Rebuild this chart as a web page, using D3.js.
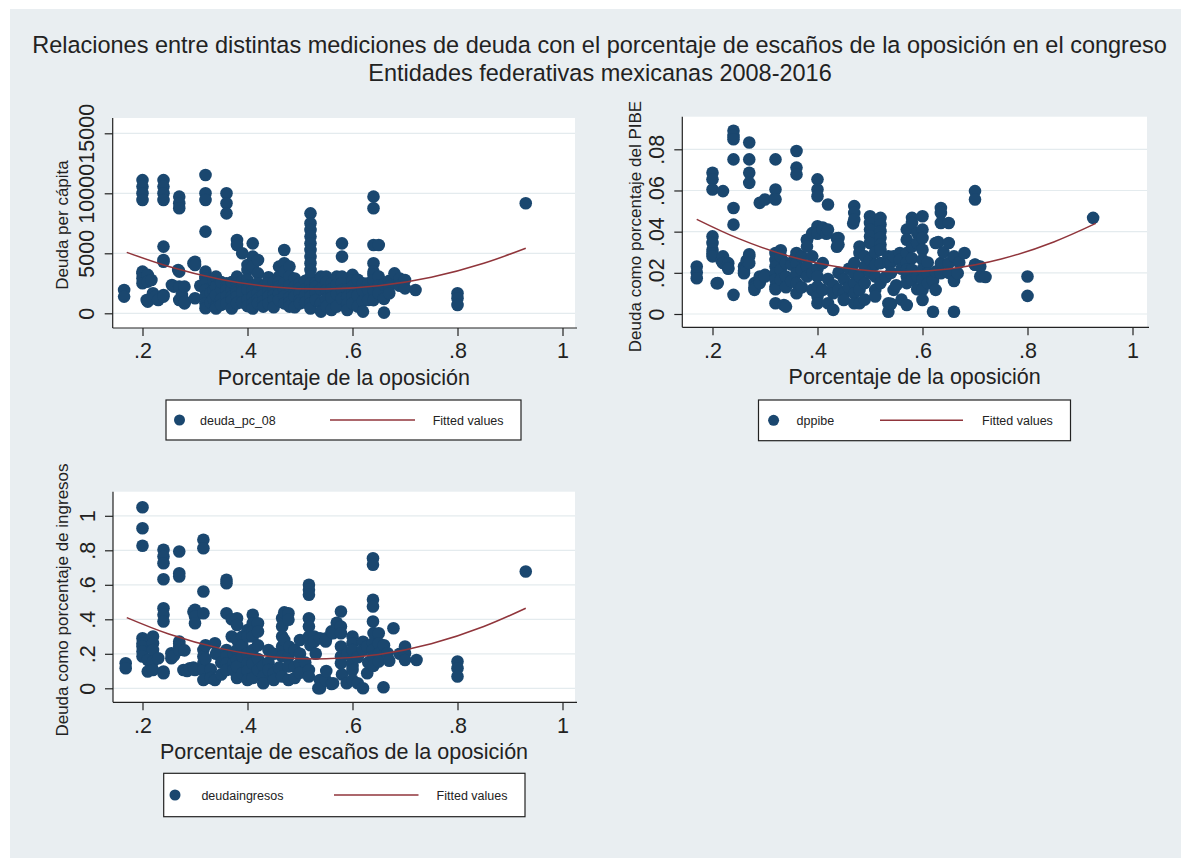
<!DOCTYPE html>
<html>
<head>
<meta charset="utf-8">
<script src="https://cdn.jsdelivr.net/npm/d3@7"></script>
<style>
  html, body { margin: 0; padding: 0; background: #ffffff; }
  svg { display: block; font-family: "Liberation Sans", Arial, Helvetica, sans-serif; }
</style>
</head>
<body>
<svg id="chart" width="1181" height="858"></svg>
<script>
// ---- Titles and axis text ----
const titleLines = [
  "Relaciones entre distintas mediciones de deuda con el porcentaje de escaños de la oposición en el congreso",
  "Entidades federativas mexicanas 2008-2016"
];
const xTitles = ["Porcentaje de la oposición", "Porcentaje de la oposición", "Porcentaje de escaños de la oposición"];
const yTitles = ["Deuda per cápita", "Deuda como porcentaje del PIBE", "Deuda como porcentaje de ingresos"];
const legendLabels = ["deuda_pc_08", "dppibe", "deudaingresos"];
const fitLabel = "Fitted values";

// ---- Tick values ----
const xTicks = [0.2, 0.4, 0.6, 0.8, 1];
const pcTicks = [0, 5000, 10000, 15000];
const pibeTicks = [0, 0.02, 0.04, 0.06, 0.08];
const ingTicks = [0, 0.2, 0.4, 0.6, 0.8, 1];

// ---- Observations: [share of opposition seats, debt measure] ----
const deudaPc = [
  [0.165,1940],[0.165,1390],
  [0.2,11100],[0.2,10560],[0.2,10000],[0.2,9440],[0.2,3470],[0.2,3330],[0.2,2920],[0.2,2500],
  [0.208,1110],[0.21,970],[0.21,3200],[0.21,2640],[0.217,2780],
  [0.22,1670],[0.22,1250],[0.224,1390],[0.23,1110],
  [0.24,11100],[0.24,10560],[0.24,10000],[0.24,9440],[0.24,5560],[0.24,4440],[0.24,4300],[0.24,1530],[0.24,1390],
  [0.256,2360],[0.26,2220],
  [0.268,3610],[0.27,9720],[0.27,9170],[0.27,8750],[0.27,3470],[0.27,2220],[0.27,1110],
  [0.275,1530],[0.28,2220],[0.28,830],[0.281,970],
  [0.297,4170],[0.3,4300],[0.3,4030],[0.3,1250],[0.31,2300],
  [0.32,11530],[0.32,10000],[0.32,9440],[0.32,6810],[0.32,3470],[0.32,3060],[0.32,2920],[0.32,2500],[0.32,1940],[0.32,1390],[0.32,830],[0.32,420],
  [0.33,1700],[0.33,900],[0.335,2700],[0.335,1900],[0.335,1200],
  [0.34,3060],[0.34,2220],[0.34,560],[0.34,1500],[0.34,400],
  [0.35,2000],[0.35,1200],[0.35,2600],[0.35,700],
  [0.36,10000],[0.36,9170],[0.36,8330],[0.36,2500],[0.36,2200],[0.36,1940],[0.36,1390],[0.36,830],
  [0.37,1940],[0.37,1390],[0.37,2600],[0.37,1100],[0.37,400],
  [0.38,6110],[0.38,5690],[0.38,3060],[0.38,2500],[0.38,1940],[0.38,1700],[0.38,1390],[0.38,830],
  [0.39,5000],[0.39,2220],[0.39,1390],[0.39,1800],[0.39,900],[0.39,2700],
  [0.4,4030],[0.4,3610],[0.4,2780],[0.4,2300],[0.4,1940],[0.4,1110],[0.4,600],
  [0.41,5830],[0.41,4720],[0.41,3890],[0.41,2300],[0.41,1900],[0.41,1390],[0.41,830],[0.41,400],
  [0.42,4440],[0.42,3330],[0.42,2500],[0.42,1670],[0.42,1200],[0.42,830],
  [0.43,2220],[0.43,1900],[0.43,1530],[0.43,1000],[0.43,560],
  [0.44,3000],[0.44,2500],[0.44,1900],[0.44,1390],[0.44,800],
  [0.45,2600],[0.45,1940],[0.45,1500],[0.45,1110],[0.45,500],
  [0.46,3890],[0.46,3060],[0.46,2600],[0.46,2220],[0.46,1600],[0.46,1110],
  [0.47,5280],[0.47,4170],[0.47,3470],[0.47,2500],[0.47,1940],[0.47,1400],[0.47,830],
  [0.48,3890],[0.48,3060],[0.48,2300],[0.48,1300],[0.48,900],[0.48,560],
  [0.49,2900],[0.49,2220],[0.49,1800],[0.49,1390],[0.49,500],
  [0.5,2500],[0.5,2100],[0.5,1670],[0.5,1100],[0.5,830],
  [0.51,2700],[0.51,2000],[0.51,1500],[0.51,900],
  [0.52,8330],[0.52,7500],[0.52,6940],[0.52,6390],[0.52,5830],[0.52,5280],[0.52,4720],[0.52,4170],[0.52,3610],[0.52,3060],[0.52,2500],[0.52,1940],[0.52,1390],[0.52,830],[0.52,400],
  [0.53,2500],[0.53,2200],[0.53,1700],[0.53,1110],
  [0.54,3060],[0.54,2000],[0.54,830],[0.54,140],
  [0.55,3060],[0.55,2600],[0.55,1940],[0.55,1200],[0.55,560],
  [0.56,2500],[0.56,2000],[0.56,1300],[0.56,280],
  [0.57,3060],[0.57,2400],[0.57,1600],[0.57,560],
  [0.58,5830],[0.58,4720],[0.58,3060],[0.58,2500],[0.58,1940],[0.58,1200],
  [0.59,2000],[0.59,1390],[0.59,800],[0.59,280],
  [0.6,3200],[0.6,2700],[0.6,2220],[0.6,1800],[0.6,1390],[0.6,830],
  [0.61,2800],[0.61,1500],[0.61,560],
  [0.62,2500],[0.62,1900],[0.62,1000],[0.62,140],
  [0.63,2500],[0.63,1940],[0.63,1110],
  [0.64,9720],[0.64,8750],[0.64,5690],[0.64,4170],[0.64,3470],[0.64,3190],[0.64,2780],[0.64,1940],[0.64,1100],
  [0.65,5690],[0.65,3060],[0.65,2300],[0.65,1670],
  [0.66,2400],[0.66,1200],[0.66,60],
  [0.67,2700],[0.67,2220],[0.67,1670],
  [0.68,3330],[0.69,2900],[0.69,2300],
  [0.7,2780],[0.7,2080],
  [0.72,1940],
  [0.8,1670],[0.8,1250],[0.8,690],
  [0.93,9170]
];

const dppibe = [
  [0.17,0.0231],[0.17,0.0202],[0.17,0.0174],
  [0.2,0.0686],[0.2,0.0654],[0.2,0.0605],[0.2,0.0377],[0.2,0.0345],[0.2,0.0312],[0.2,0.0295],[0.2,0.028],
  [0.208,0.0149],[0.21,0.015],[0.217,0.026],
  [0.22,0.0597],[0.22,0.028],[0.22,0.0247],
  [0.23,0.0247],[0.23,0.0223],[0.23,0.022],
  [0.24,0.089],[0.24,0.0865],[0.24,0.0849],[0.24,0.0751],[0.24,0.0515],[0.24,0.0434],[0.24,0.0093],
  [0.26,0.0231],[0.26,0.021],[0.26,0.0198],[0.265,0.026],
  [0.27,0.0833],[0.27,0.0751],[0.27,0.0686],[0.27,0.0637],[0.27,0.029],[0.27,0.028],[0.27,0.0247],
  [0.28,0.015],[0.28,0.013],[0.28,0.0117],
  [0.29,0.054],[0.29,0.0182],[0.29,0.016],[0.29,0.015],
  [0.3,0.0556],[0.3,0.019],[0.3,0.0182],
  [0.319,0.056],
  [0.32,0.0751],[0.32,0.0605],[0.32,0.0556],[0.32,0.0296],[0.32,0.0263],[0.32,0.0231],[0.32,0.0198],[0.32,0.0166],[0.32,0.0133],[0.32,0.012],[0.32,0.0052],
  [0.33,0.031],[0.33,0.028],[0.33,0.0215],[0.33,0.0166],[0.336,0.0044],
  [0.34,0.0247],[0.34,0.0182],[0.34,0.013],[0.34,0.0036],
  [0.35,0.024],[0.35,0.016],[0.357,0.027],
  [0.36,0.0792],[0.36,0.0711],[0.36,0.0678],[0.36,0.0296],[0.36,0.0247],[0.36,0.0198],[0.36,0.015],[0.36,0.0101],
  [0.37,0.028],[0.37,0.0215],[0.37,0.013],
  [0.38,0.0361],[0.38,0.036],[0.38,0.0328],[0.38,0.0231],[0.38,0.0182],
  [0.39,0.0393],[0.39,0.028],[0.39,0.02],[0.39,0.0117],
  [0.4,0.0654],[0.4,0.0605],[0.4,0.0572],[0.4,0.0426],[0.4,0.039],[0.4,0.022],[0.4,0.0182],[0.4,0.0133],[0.4,0.0085],[0.4,0.0052],
  [0.41,0.042],[0.41,0.041],[0.41,0.0247],[0.41,0.0117],
  [0.417,0.039],
  [0.42,0.0532],[0.42,0.041],[0.42,0.017],[0.42,0.0052],
  [0.43,0.014],[0.43,0.0101],[0.43,0.002],
  [0.437,0.0368],[0.437,0.0327],
  [0.44,0.0369],[0.44,0.0337],[0.44,0.02],[0.44,0.0117],
  [0.45,0.017],[0.45,0.0101],[0.45,0.0068],
  [0.46,0.022],[0.46,0.013],
  [0.468,0.044],
  [0.47,0.0524],[0.47,0.0491],[0.47,0.0459],[0.47,0.0247],[0.47,0.0198],[0.47,0.015],[0.47,0.0101],[0.47,0.0052],
  [0.48,0.0328],[0.48,0.0296],[0.48,0.0182],[0.48,0.0117],[0.48,0.0052],
  [0.49,0.028],[0.49,0.0231],[0.49,0.015],[0.49,0.007],
  [0.5,0.0475],[0.5,0.0442],[0.5,0.041],[0.5,0.0377],[0.5,0.0345],[0.5,0.0263],[0.5,0.02],
  [0.51,0.03],[0.51,0.024],[0.51,0.0182],[0.51,0.0117],[0.51,0.0085],
  [0.52,0.0467],[0.52,0.0435],[0.52,0.0402],[0.52,0.037],[0.52,0.0337],[0.52,0.0312],[0.52,0.0247],[0.52,0.015],
  [0.53,0.018],
  [0.535,0.028],[0.535,0.0247],[0.535,0.0052],[0.535,0.0011],
  [0.54,0.025],[0.54,0.02],[0.54,0.005],
  [0.545,0.028],[0.545,0.0117],
  [0.55,0.014],
  [0.557,0.0296],[0.557,0.0263],
  [0.56,0.022],[0.56,0.007],
  [0.57,0.041],[0.57,0.0361],[0.57,0.0296],[0.57,0.025],[0.57,0.0215],[0.57,0.0182],[0.57,0.015],[0.57,0.0044],
  [0.58,0.0467],[0.58,0.0442],[0.58,0.0328],[0.58,0.027],[0.58,0.0215],[0.58,0.0166],
  [0.59,0.0393],[0.59,0.0345],[0.59,0.0182],[0.59,0.012],
  [0.6,0.0475],[0.6,0.041],[0.6,0.0369],[0.6,0.0312],[0.6,0.0263],[0.6,0.0215],[0.6,0.0166],[0.6,0.0117],[0.6,0.0068],
  [0.61,0.025],[0.61,0.0198],[0.61,0.015],
  [0.62,0.016],[0.62,0.0011],
  [0.625,0.0345],[0.625,0.0206],[0.625,0.0117],
  [0.63,0.035],
  [0.635,0.0515],[0.635,0.0491],[0.635,0.0442],[0.635,0.0247],[0.635,0.0198],
  [0.64,0.03],
  [0.65,0.0442],[0.65,0.0345],[0.65,0.0247],[0.65,0.02],
  [0.66,0.028],[0.66,0.016],[0.66,0.0011],
  [0.667,0.0198],[0.67,0.025],
  [0.68,0.0296],
  [0.7,0.0597],[0.7,0.0556],[0.7,0.0239],[0.7,0.024],
  [0.71,0.0231],[0.71,0.0182],[0.72,0.018],
  [0.8,0.0182],[0.8,0.0088],
  [0.925,0.0467]
];

const deudaIngresos = [
  [0.168,0.145],[0.168,0.116],
  [0.2,1.05],[0.2,0.928],[0.2,0.826],[0.2,0.29],[0.2,0.26],[0.2,0.242],[0.2,0.213],[0.2,0.184],
  [0.21,0.164],[0.21,0.097],
  [0.22,0.3],[0.22,0.261],[0.22,0.222],[0.22,0.155],[0.22,0.106],
  [0.23,0.174],
  [0.24,0.803],[0.24,0.764],[0.24,0.725],[0.24,0.632],[0.24,0.464],[0.24,0.426],[0.24,0.387],[0.24,0.097],[0.24,0.087],
  [0.255,0.203],[0.255,0.174],[0.26,0.19],
  [0.27,0.793],[0.27,0.667],[0.27,0.648],[0.27,0.271],[0.27,0.26],[0.27,0.242],[0.27,0.222],
  [0.278,0.106],[0.28,0.22],[0.285,0.1],[0.29,0.116],
  [0.297,0.444],[0.297,0.12],
  [0.3,0.455],[0.3,0.416],[0.3,0.377],[0.3,0.106],
  [0.316,0.861],[0.316,0.812],[0.316,0.561],[0.316,0.435],[0.316,0.222],[0.316,0.184],[0.316,0.145],[0.316,0.106],[0.316,0.048],
  [0.32,0.25],[0.32,0.17],
  [0.33,0.11],[0.33,0.06],
  [0.338,0.261],[0.34,0.2],[0.338,0.048],
  [0.35,0.15],[0.35,0.08],
  [0.36,0.629],[0.36,0.609],[0.36,0.435],[0.36,0.222],[0.36,0.184],[0.36,0.145],[0.36,0.106],
  [0.37,0.4],[0.37,0.3],
  [0.373,0.203],[0.373,0.145],[0.373,0.106],
  [0.38,0.406],[0.38,0.367],[0.38,0.28],[0.38,0.222],[0.38,0.164],[0.38,0.126],[0.38,0.06],
  [0.39,0.3],[0.39,0.25],[0.39,0.184],[0.39,0.087],
  [0.4,0.338],[0.4,0.3],[0.4,0.2],[0.4,0.145],[0.4,0.1],[0.4,0.048],
  [0.41,0.426],[0.41,0.377],[0.41,0.329],[0.41,0.3],[0.41,0.222],[0.41,0.145],[0.41,0.06],
  [0.42,0.377],[0.42,0.329],[0.42,0.25],[0.42,0.17],[0.42,0.106],
  [0.43,0.13],[0.43,0.068],[0.43,0.029],
  [0.44,0.222],[0.44,0.15],[0.44,0.106],
  [0.45,0.2],[0.45,0.087],[0.45,0.048],
  [0.46,0.12],
  [0.466,0.406],[0.466,0.358],[0.466,0.3],[0.466,0.242],[0.466,0.184],[0.466,0.068],
  [0.47,0.44],[0.47,0.28],
  [0.478,0.435],[0.478,0.397],[0.478,0.184],[0.478,0.126],[0.478,0.048],
  [0.48,0.24],
  [0.49,0.222],[0.49,0.126],[0.49,0.06],
  [0.5,0.28],[0.5,0.2],[0.5,0.145],[0.5,0.09],
  [0.51,0.15],
  [0.517,0.6],[0.517,0.571],[0.517,0.542],[0.517,0.406],[0.517,0.358],[0.517,0.3],[0.517,0.106],[0.517,0.068],
  [0.52,0.25],
  [0.527,0.3],[0.527,0.271],[0.53,0.2],
  [0.535,0.0],[0.538,0.29],[0.538,0.048],[0.538,0.0],
  [0.549,0.271],[0.549,0.048],[0.55,0.29],[0.55,0.1],
  [0.56,0.33],[0.56,0.025],[0.563,0.319],[0.563,0.029],
  [0.57,0.38],
  [0.578,0.445],[0.578,0.358],[0.578,0.319],[0.578,0.242],[0.578,0.184],[0.578,0.145],[0.58,0.08],
  [0.589,0.029],[0.59,0.2],
  [0.6,0.3],[0.6,0.261],[0.6,0.222],[0.6,0.164],[0.6,0.13],[0.6,0.106],[0.6,0.048],
  [0.61,0.18],[0.61,0.029],
  [0.62,0.27],[0.62,0.222],[0.62,0.0],
  [0.628,0.242],[0.628,0.087],[0.63,0.15],
  [0.639,0.754],[0.639,0.716],[0.639,0.513],[0.639,0.474],[0.639,0.387],[0.64,0.32],[0.639,0.261],[0.639,0.222],[0.639,0.184],[0.64,0.13],
  [0.65,0.319],[0.65,0.261],[0.65,0.2],[0.65,0.155],
  [0.659,0.006],[0.66,0.25],
  [0.667,0.203],[0.67,0.16],
  [0.678,0.348],[0.69,0.2],
  [0.7,0.242],[0.7,0.203],[0.7,0.164],
  [0.722,0.164],
  [0.8,0.155],[0.8,0.116],[0.8,0.068],
  [0.93,0.677]
];

// ---- Quadratic fitted values ----
const fitPc   = [[0.17,5080],[0.25,3900],[0.35,2820],[0.45,2200],[0.55,2020],[0.65,2290],[0.75,3000],[0.85,4170],[0.93,5420]];
const fitPibe = [[0.17,0.046],[0.25,0.0366],[0.35,0.0278],[0.45,0.0225],[0.55,0.0205],[0.65,0.0219],[0.75,0.0267],[0.85,0.035],[0.93,0.044]];
const fitIng  = [[0.17,0.41],[0.25,0.315],[0.35,0.23],[0.45,0.182],[0.55,0.171],[0.65,0.196],[0.75,0.258],[0.85,0.358],[0.93,0.464]];

// ---- Drawing ----
const MARKER = "#1a476f";
const FITCOL = "#90353b";
const INK = "#222222";
const AXIS_FS = 21.5;

const svg = d3.select("#chart");

// graph region
svg.append("rect")
  .attr("x", 10).attr("y", 9).attr("width", 1171).attr("height", 849)
  .attr("fill", "#e9eef1");

// overall titles
const t1 = svg.append("text")
  .attr("x", 599.5).attr("y", 52).attr("text-anchor", "middle")
  .attr("fill", INK).style("font-size", "20px").text(titleLines[0]);
const w1 = t1.node().getComputedTextLength();
const titleFs = 20 * 1135 / w1;
t1.style("font-size", titleFs + "px").attr("y", 45 + 0.36 * titleFs);
svg.append("text")
  .attr("x", 600).attr("y", 73 + 0.36 * titleFs).attr("text-anchor", "middle")
  .attr("fill", INK).style("font-size", titleFs + "px").text(titleLines[1]);

const fmt = v => String(v).replace(/^0\./, ".");

const panels = [
  { points: deudaPc, fit: fitPc, yTicks: pcTicks, yDomain: [0, 15000],
    frame: { left: 112.7, top: 118, right: 575, bottom: 328 },
    xRange: [142.5, 562.5], yRange: [313.3, 133.3],
    yTitleX: 62, yTitleY: 225, xTitleY: 377,
    legend: { x: 166, y: 400, w: 355, h: 40, marker: 179.5, label: 200, line: [330, 415], fit: 432.7 } },
  { points: dppibe, fit: fitPibe, yTicks: pibeTicks, yDomain: [0, 0.08],
    frame: { left: 682.3, top: 116.7, right: 1147, bottom: 327.3 },
    xRange: [712.5, 1132.5], yRange: [314, 149.3],
    yTitleX: 635, yTitleY: 226.5, xTitleY: 376,
    legend: { x: 758.5, y: 400, w: 312, h: 40.7, marker: 773.6, label: 796.6, line: [880, 963], fit: 982 } },
  { points: deudaIngresos, fit: fitIng, yTicks: ingTicks, yDomain: [0, 1],
    frame: { left: 113, top: 491.7, right: 575, bottom: 702.3 },
    xRange: [142.5, 562.5], yRange: [688.3, 515.8],
    yTitleX: 62, yTitleY: 600, xTitleY: 751.7,
    legend: { x: 163.7, y: 773.3, w: 361.3, h: 43.4, marker: 175, label: 201.4, line: [334, 418.5], fit: 436.6 } }
];

panels.forEach((p, i) => {
  const g = svg.append("g");
  const f = p.frame;
  const x = d3.scaleLinear().domain([0.2, 1]).range(p.xRange);
  const y = d3.scaleLinear().domain(p.yDomain).range(p.yRange);

  // plot region
  g.append("rect")
    .attr("x", f.left).attr("y", f.top)
    .attr("width", f.right - f.left).attr("height", f.bottom - f.top)
    .attr("fill", "#ffffff");

  // horizontal grid
  g.append("g").selectAll("line").data(p.yTicks).join("line")
    .attr("x1", f.left).attr("x2", f.right)
    .attr("y1", d => y(d)).attr("y2", d => y(d))
    .attr("stroke", "#e4ebee").attr("stroke-width", 1.2);

  // scatter
  g.append("g").selectAll("circle").data(p.points).join("circle")
    .attr("cx", d => x(d[0])).attr("cy", d => y(d[1]))
    .attr("r", 6.3).attr("fill", MARKER);

  // fitted curve
  g.append("path").datum(p.fit)
    .attr("d", d3.line().x(d => x(d[0])).y(d => y(d[1])).curve(d3.curveNatural))
    .attr("fill", "none").attr("stroke", FITCOL).attr("stroke-width", 1.5);

  // x axis
  const xa = g.append("g").attr("transform", `translate(0,${f.bottom})`)
    .call(d3.axisBottom(x).tickValues(xTicks).tickSize(8).tickPadding(7).tickFormat(fmt));
  xa.select(".domain").remove();
  xa.selectAll("line").attr("stroke", INK).attr("stroke-width", 1.2);
  xa.selectAll("text").attr("fill", INK).style("font-size", AXIS_FS + "px")
    .style("font-family", '"Liberation Sans", Arial, sans-serif');

  // y axis
  const ya = g.append("g").attr("transform", `translate(${f.left},0)`)
    .call(d3.axisLeft(y).tickValues(p.yTicks).tickSize(8).tickFormat(fmt));
  ya.select(".domain").remove();
  ya.selectAll("line").attr("stroke", INK).attr("stroke-width", 1.2);
  ya.selectAll("text")
    .attr("x", 0).attr("y", 0).attr("dy", "0.35em")
    .attr("text-anchor", "middle")
    .attr("transform", "translate(-26,0) rotate(-90)")
    .attr("fill", INK).style("font-size", AXIS_FS + "px")
    .style("font-family", '"Liberation Sans", Arial, sans-serif');

  // axis lines
  g.append("line").attr("x1", f.left).attr("x2", f.left).attr("y1", f.top).attr("y2", f.bottom)
    .attr("stroke", INK).attr("stroke-width", 1.2);
  g.append("line").attr("x1", f.left).attr("x2", f.right + 2).attr("y1", f.bottom).attr("y2", f.bottom)
    .attr("stroke", INK).attr("stroke-width", 1.2);

  // axis titles
  g.append("text")
    .attr("x", (f.left + f.right) / 2).attr("y", p.xTitleY + 0.36 * AXIS_FS)
    .attr("text-anchor", "middle").attr("fill", INK)
    .style("font-size", AXIS_FS + "px").text(xTitles[i]);
  g.append("text")
    .attr("transform", `translate(${p.yTitleX},${p.yTitleY}) rotate(-90)`)
    .attr("dy", "0.35em").attr("text-anchor", "middle").attr("fill", INK)
    .style("font-size", "17px").text(yTitles[i]);

  // legend
  const L = p.legend;
  const cy = L.y + L.h / 2;
  g.append("rect").attr("x", L.x).attr("y", L.y).attr("width", L.w).attr("height", L.h)
    .attr("fill", "#ffffff").attr("stroke", INK).attr("stroke-width", 1.2);
  g.append("circle").attr("cx", L.marker).attr("cy", cy).attr("r", 5.5).attr("fill", MARKER);
  g.append("text").attr("x", L.label).attr("y", cy + 0.36 * 12.5)
    .attr("fill", INK).style("font-size", "12.5px").text(legendLabels[i]);
  g.append("line").attr("x1", L.line[0]).attr("x2", L.line[1]).attr("y1", cy).attr("y2", cy)
    .attr("stroke", FITCOL).attr("stroke-width", 1.5);
  g.append("text").attr("x", L.fit).attr("y", cy + 0.36 * 12.5)
    .attr("fill", INK).style("font-size", "12.5px").text(fitLabel);
});
</script>
</body>
</html>
